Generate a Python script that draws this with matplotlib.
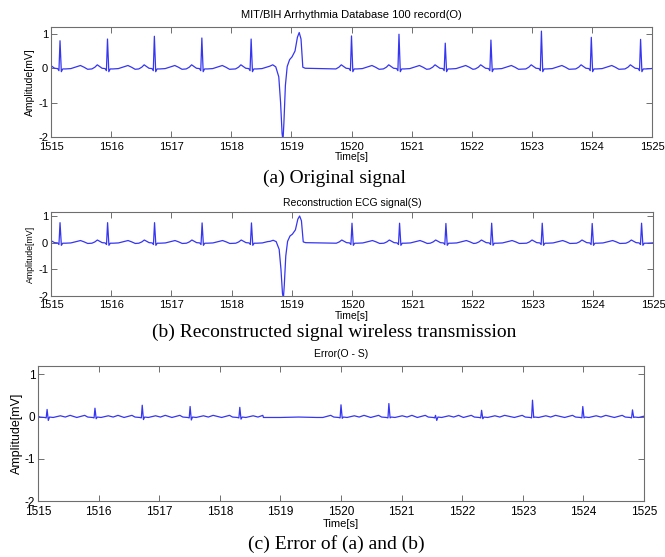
import matplotlib
matplotlib.use("Agg")
import matplotlib.pyplot as plt

# ---------------- data ----------------
# normal-beat R-peak times [s]
beat_t = [1515.15, 1515.94, 1516.72, 1517.51, 1518.33, 1520.00,
          1520.79, 1521.56, 1522.32, 1523.16, 1523.99, 1524.81]
# R-peak amplitudes [mV]: original (O) and reconstructed (S)
r_amp_o = [0.80, 0.85, 0.93, 0.88, 0.85, 0.94, 0.99, 0.73, 0.82, 1.08, 0.90, 0.84]
r_amp_s = [0.75, 0.75, 0.75, 0.74, 0.74, 0.73, 0.73, 0.72, 0.73, 0.73, 0.72, 0.73]
# error spike peak / dip at each beat [mV]
err_peak = [0.17, 0.20, 0.27, 0.24, 0.22, 0.28, 0.31, 0.03, 0.15, 0.39, 0.24, 0.16]
err_dip = [-0.09, -0.05, -0.07, -0.08, -0.06, -0.04, -0.03, -0.09, -0.05, -0.02, -0.03, -0.02]

# normal beat outline (offset from R [s], value [mV]; None = R peak)
beat_dt = [-0.26, -0.21, -0.17, -0.13, -0.09, -0.04, -0.018, 0.0, 0.022, 0.045,
           0.09, 0.18, 0.27, 0.34, 0.40, 0.46]
beat_v = [-0.02, 0.03, 0.10, 0.05, 0.00, -0.01, -0.07, None, -0.10, -0.02,
          -0.02, -0.01, 0.04, 0.08, 0.03, -0.03]

# premature ventricular beat outline (time [s], O value, S value)
pvc_t = [1518.64, 1518.69, 1518.74, 1518.79, 1518.82, 1518.845, 1518.86, 1518.875,
         1518.90, 1518.93, 1518.97, 1519.01, 1519.06, 1519.10, 1519.13, 1519.16,
         1519.19, 1519.23]
pvc_o = [0.06, 0.10, 0.04, -0.25, -1.0, -1.9, -2.1, -1.6, -0.5, 0.05, 0.25, 0.33,
         0.50, 0.90, 1.04, 0.85, 0.03, 0.0]
pvc_s = [0.05, 0.09, 0.04, -0.25, -1.0, -1.9, -2.1, -1.6, -0.5, 0.05, 0.25, 0.32,
         0.48, 0.88, 1.00, 0.82, 0.03, 0.0]

# error outline around each beat (offset [s], value [mV]; 'P' = peak, 'D' = dip)
err_dt = [-0.30, -0.17, -0.12, -0.04, -0.015, 0.0, 0.02, 0.04, 0.10, 0.22, 0.30, 0.38]
err_v = [-0.02, 0.03, -0.01, -0.02, -0.03, 'P', 'D', -0.01, -0.02, 0.02, -0.01, 0.03]
err_flat_t = [1518.72, 1519.00, 1519.30, 1519.60, 1519.70]
err_flat_v = [-0.02, -0.02, -0.01, -0.02, -0.02]

x_ticks = list(range(1515, 1526))
y_ticks = [-2, -1, 0, 1]


def build_signal(r_amps, pvc_vals):
    pts = []
    for t0, ra in zip(beat_t, r_amps):
        for dt, v in zip(beat_dt, beat_v):
            t = t0 + dt
            if pvc_t[0] - 0.03 <= t <= pvc_t[-1]:
                continue
            pts.append((t, ra if v is None else v))
    pts += list(zip(pvc_t, pvc_vals))
    pts.sort()
    return [p[0] for p in pts], [p[1] for p in pts]


def build_error():
    pts = []
    for t0, pk, dp in zip(beat_t, err_peak, err_dip):
        for dt, v in zip(err_dt, err_v):
            t = t0 + dt
            if err_flat_t[0] <= t <= err_flat_t[-1]:
                continue
            pts.append((t, pk if v == 'P' else (dp if v == 'D' else v)))
    pts += list(zip(err_flat_t, err_flat_v))
    pts.sort()
    return [p[0] for p in pts], [p[1] for p in pts]


to, yo = build_signal(r_amp_o, pvc_o)
ts, ys = build_signal(r_amp_s, pvc_s)
te, ye = build_error()

SANS = ['Liberation Sans', 'DejaVu Sans']
SERIF = ['Liberation Serif', 'DejaVu Serif']
LINE = '#3535f2'
FRAME = '#6e6e6e'

fig = plt.figure(figsize=(6.65, 5.57), dpi=100)
W, H = 665.0, 557.0


def make_ax(left, right, top, bottom, ylim_top, tick_fs, lab_fs, title, title_fs,
            title_pad, xlabel_fs, labelpad_y, tick_pad):
    ax = fig.add_axes([left / W, 1 - bottom / H, (right - left) / W, (bottom - top) / H])
    ax.set_xlim(1515, 1525)
    ax.set_ylim(-2, ylim_top)
    ax.set_xticks(x_ticks)
    ax.set_yticks(y_ticks)
    ax.set_xticklabels([str(v) for v in x_ticks], family=SANS, fontsize=tick_fs)
    ax.set_yticklabels([str(v) for v in y_ticks], family=SANS, fontsize=tick_fs)
    ax.tick_params(direction='in', length=4, width=0.7, color=FRAME, top=True, right=True)
    ax.tick_params(axis='x', pad=tick_pad)
    ax.tick_params(axis='y', pad=2)
    for s in ax.spines.values():
        s.set_color(FRAME)
        s.set_linewidth(0.8)
    ax.set_title(title, family=SANS, fontsize=title_fs, pad=title_pad)
    ax.set_xlabel('Time[s]', family=SANS, fontsize=xlabel_fs, labelpad=0.5)
    ax.set_ylabel('Amplitude[mV]', family=SANS, fontsize=lab_fs, labelpad=labelpad_y)
    return ax


ax1 = make_ax(51, 652, 27, 137, 1.2, 8, 7.5,
              'MIT/BIH Arrhythmia Database 100 record(O)', 8, 6.5, 7.5, 2, 3.3)
ax1.plot(to, yo, color=LINE, lw=0.9)

ax2 = make_ax(51, 653, 212, 296, 1.15, 8, 6.3,
              'Reconstruction ECG signal(S)', 7.5, 4.5, 7.5, 2, 3.0)
ax2.plot(ts, ys, color=LINE, lw=0.9)

ax3 = make_ax(38, 644, 366, 501, 1.2, 8.5, 9,
              'Error(O - S)', 7.5, 6.5, 8, 1, 3.8)
ax3.plot(te, ye, color=LINE, lw=0.9)

fig.text(334 / W, 1 - 178 / H, '(a) Original signal', family=SERIF, fontsize=14,
         ha='center', va='center')
fig.text(334 / W, 1 - 332 / H, '(b) Reconstructed signal wireless transmission',
         family=SERIF, fontsize=14, ha='center', va='center')
fig.text(336 / W, 1 - 544 / H, '(c) Error of (a) and (b)', family=SERIF, fontsize=14,
         ha='center', va='center')

fig.savefig('out.png', dpi=100)
